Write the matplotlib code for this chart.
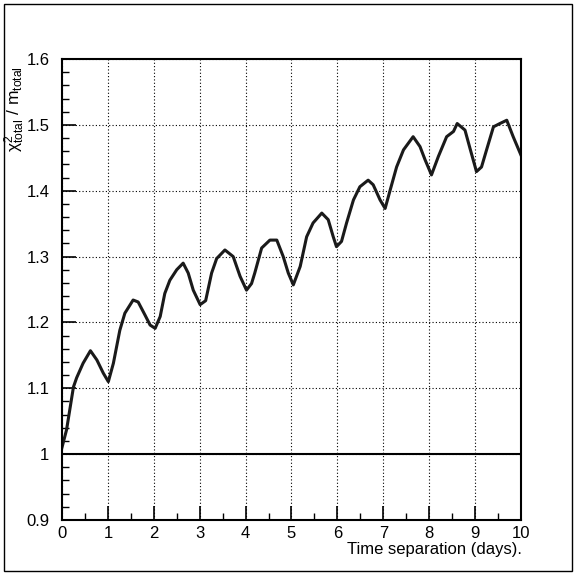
import matplotlib
matplotlib.use("Agg")
import matplotlib.pyplot as plt
from matplotlib.ticker import MultipleLocator, FixedFormatter, FixedLocator
from matplotlib.patches import Rectangle

# chi2/m versus time separation
days = [0.00, 0.10, 0.25, 0.32, 0.46, 0.62, 0.76, 0.90, 1.01, 1.12, 1.26, 1.37,
        1.55, 1.66, 1.81, 1.92, 2.03, 2.14, 2.24, 2.35, 2.50, 2.64, 2.75, 2.86,
        3.01, 3.13, 3.26, 3.37, 3.55, 3.73, 3.88, 4.02, 4.13, 4.20, 4.35, 4.53,
        4.68, 4.82, 4.93, 5.04, 5.19, 5.33, 5.47, 5.66, 5.80, 5.91, 5.98, 6.09,
        6.20, 6.35, 6.49, 6.67, 6.78, 6.93, 7.04, 7.15, 7.29, 7.44, 7.65, 7.80,
        7.91, 8.05, 8.20, 8.38, 8.53, 8.61, 8.78, 8.89, 9.03, 9.14, 9.25, 9.40,
        9.54, 9.69, 9.83, 10.00]
ratio = [1.010, 1.037, 1.102, 1.116, 1.138, 1.157, 1.143, 1.123, 1.110, 1.138, 1.188, 1.214,
         1.234, 1.231, 1.211, 1.196, 1.191, 1.209, 1.244, 1.264, 1.280, 1.290, 1.275, 1.249,
         1.227, 1.233, 1.275, 1.297, 1.310, 1.300, 1.270, 1.249, 1.259, 1.275, 1.313, 1.325,
         1.325, 1.300, 1.275, 1.257, 1.285, 1.330, 1.351, 1.366, 1.356, 1.330, 1.315, 1.323,
         1.351, 1.386, 1.406, 1.416, 1.409, 1.386, 1.373, 1.401, 1.436, 1.462, 1.482, 1.467,
         1.447, 1.424, 1.452, 1.482, 1.490, 1.502, 1.492, 1.464, 1.429, 1.436, 1.462, 1.497,
         1.502, 1.507, 1.482, 1.454]

xticks = [0, 1, 2, 3, 4, 5, 6, 7, 8, 9, 10]
yticks = [0.9, 1.0, 1.1, 1.2, 1.3, 1.4, 1.5, 1.6]
ytick_labels = ["0.9", "1", "1.1", "1.2", "1.3", "1.4", "1.5", "1.6"]

plt.rcParams['font.family'] = ['Liberation Sans', 'DejaVu Sans']
plt.rcParams['mathtext.fontset'] = 'custom'
plt.rcParams['mathtext.rm'] = 'Liberation Sans'
plt.rcParams['mathtext.it'] = 'Liberation Sans'

fig = plt.figure(figsize=(5.76, 5.75), dpi=100)
fig.patches.append(Rectangle((0.007, 0.007), 0.986, 0.986, transform=fig.transFigure,
                             fill=False, edgecolor='black', linewidth=1.0))
ax = fig.add_axes([0.1076, 0.0957, 0.7969, 0.8017])

ax.plot(days, ratio, color='#1a1a1a', linewidth=2.2, solid_joinstyle='round')
ax.axhline(1.0, color='black', linewidth=1.5)

ax.set_xlim(0, 10)
ax.set_ylim(0.9, 1.6)

ax.xaxis.set_major_locator(FixedLocator(xticks))
ax.xaxis.set_minor_locator(MultipleLocator(0.5))
ax.yaxis.set_major_locator(FixedLocator(yticks))
ax.yaxis.set_major_formatter(FixedFormatter(ytick_labels))
ax.yaxis.set_minor_locator(MultipleLocator(0.02))

ax.tick_params(which='major', direction='in', length=10, width=1.2, labelsize=12,
               top=False, right=False)
ax.tick_params(which='minor', direction='in', length=5, width=1.0, top=False, right=False)
ax.tick_params(axis='x', pad=4)
ax.tick_params(axis='y', pad=9)

ax.grid(True, which='major', linestyle=(0, (1, 2)), color='black', linewidth=0.8)
for side in ax.spines.values():
    side.set_linewidth(1.5)

# axis titles placed like the original (PAW-style)
fig.text(0.906, 0.044, "Time separation (days).", fontsize=12, ha='right', va='center')
fig.text(0.026, 0.885, r"$\chi^2_{\rm total}$ / m$_{\rm total}$", fontsize=12.5,
         rotation=90, ha='center', va='top')

fig.savefig("out.png", dpi=100)
